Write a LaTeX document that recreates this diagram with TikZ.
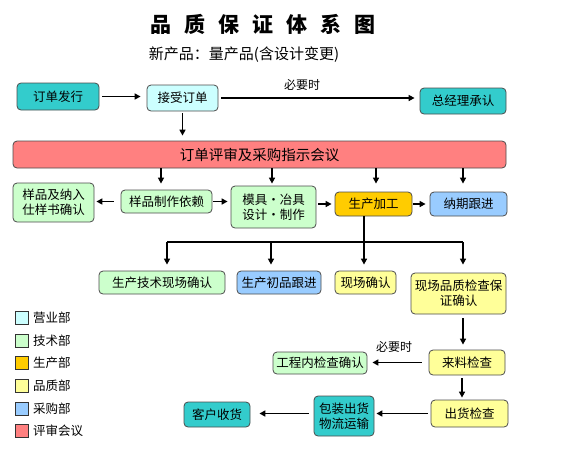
\documentclass[tikz,border=0pt]{standalone}
\usepackage{fontspec}
\setmainfont{Noto Sans CJK SC}
\usetikzlibrary{arrows.meta,calc}
\definecolor{cTeal}{HTML}{33CCCC}
\definecolor{cCyan}{HTML}{CCFFFF}
\definecolor{cGreen}{HTML}{CCFFCC}
\definecolor{cOrange}{HTML}{FFCC00}
\definecolor{cYellow}{HTML}{FFFF99}
\definecolor{cBlue}{HTML}{99CCFF}
\definecolor{cRed}{HTML}{FF8080}
\begin{document}
\begin{tikzpicture}[x=1pt,y=-1pt,
  box/.style={draw=black!70,line width=0.8pt,rounded corners=4pt,inner sep=0pt,align=center,
              font=\fontsize{12.5}{15}\selectfont},
  arr/.style={line width=1.6pt,-{Triangle[length=6pt,width=6pt]}},
  bar/.style={line width=1.6pt},
  lbl/.style={font=\fontsize{12}{14}\selectfont,inner sep=0pt},
  legbox/.style={draw=black!80,line width=0.6pt,minimum width=13,minimum height=13,inner sep=0pt},
  legtxt/.style={anchor=west,inner sep=0pt,font=\fontsize{12.5}{15}\selectfont}]
\useasboundingbox (0,0) rectangle (569,456);

% titles
\node[inner sep=0pt,font=\fontsize{21}{24}\selectfont\bfseries] (title) at (263,24)
  {品\hspace{13pt}质\hspace{13pt}保\hspace{13pt}证\hspace{13pt}体\hspace{13pt}系\hspace{13pt}图};
\node[inner sep=0pt,font=\fontsize{15}{18}\selectfont] (sub) at (244,55) {新产品：量产品(含设计变更)};

% row 1
\node[box,fill=cTeal,minimum width=82,minimum height=27] (n1) at (58,96.5) {订单发行};
\node[box,fill=cCyan,minimum width=71,minimum height=26] (n2) at (182.5,98) {接受订单};
\node[box,fill=cTeal,minimum width=86,minimum height=26] (n3) at (463,101) {总经理承认};
\node[lbl] (l1) at (302,85) {必要时};

% meeting
\node[box,fill=cRed,minimum width=493,minimum height=27,font=\fontsize{14.5}{17}\selectfont] (red) at (259.5,154.5) {订单评审及采购指示会议};

% row 2
\node[box,fill=cGreen,minimum width=81,minimum height=39] (s1) at (53.5,202.5) {样品及纳入\\仕样书确认};
\node[box,fill=cGreen,minimum width=91,minimum height=23] (s2) at (166.5,201.5) {样品制作依赖};
\node[box,fill=cGreen,minimum width=85,minimum height=42] (s3) at (273.5,207) {模具・冶具\\设计・制作};
\node[box,fill=cOrange,minimum width=77,minimum height=24] (s4) at (373.5,204) {生产加工};
\node[box,fill=cBlue,minimum width=77,minimum height=24] (s5) at (468.5,204) {纳期跟进};

% row 3
\node[box,fill=cGreen,minimum width=126,minimum height=23] (t1) at (162,282.5) {生产技术现场确认};
\node[box,fill=cBlue,minimum width=84,minimum height=23] (t2) at (279,282.5) {生产初品跟进};
\node[box,fill=cYellow,minimum width=61,minimum height=23] (t3) at (365.5,282.5) {现场确认};
\node[box,fill=cYellow,minimum width=95,minimum height=41] (t4) at (458.5,293.5) {现场品质检查保\\证确认};

% lower part
\node[box,fill=cYellow,minimum width=76,minimum height=25] (u1) at (467,362.5) {来料检查};
\node[box,fill=cGreen,minimum width=94,minimum height=22] (u2) at (320,363) {工程内检查确认};
\node[lbl] (l2) at (394,347) {必要时};
\node[box,fill=cYellow,minimum width=77,minimum height=27] (v1) at (469.5,413.5) {出货检查};
\node[box,fill=cTeal,minimum width=60,minimum height=40] (v2) at (344,416) {包装出货\\物流运输};
\node[box,fill=cTeal,minimum width=66,minimum height=25] (v3) at (217,414.5) {客户收货};

% legend
\foreach \i/\c/\t in {0/cCyan/营业部,1/cGreen/技术部,2/cOrange/生产部,3/cYellow/品质部,4/cBlue/采购部,5/cRed/评审会议}{
  \node[legbox,fill=\c] (lg\i) at (21.5,{318+22.6*\i}) {};
  \node[legtxt] (lt\i) at (33,{318+22.6*\i}) {\t};
}

% connectors
\draw[arr,shorten <=3pt,shorten >=6pt] (n1.east) -- (n1.east -| n2.west);
\draw[arr,shorten <=3pt,shorten >=5pt] (n2.east) -- (n2.east -| n3.west);
\draw[arr,shorten <=2pt,shorten >=5pt] (n2.south) -- (n2.south |- red.north);

\draw[arr,shorten >=6pt] ([xshift=-5.5]s2.north |- red.south) -- ([xshift=-5.5]s2.north);
\draw[arr,shorten >=2pt] ([xshift=-1.5]s3.north |- red.south) -- ([xshift=-1.5]s3.north);
\draw[arr,shorten >=8pt] ([xshift=2.5]s4.north |- red.south) -- ([xshift=2.5]s4.north);
\draw[arr,shorten >=8pt] ([xshift=-5.5]s5.north |- red.south) -- ([xshift=-5.5]s5.north);

\draw[arr,shorten <=7pt,shorten >=2pt] (s2.west) -- (s2.west -| s1.east);
\draw[arr,shorten <=1pt,shorten >=3pt] (s2.east) -- (s2.east -| s3.west);
\draw[arr,shorten <=2pt,shorten >=3pt] (s3.east |- s4.west) -- (s4.west);
\draw[arr,shorten <=1pt,shorten >=4pt] (s4.east) -- (s4.east -| s5.west);

\coordinate (bus) at ([xshift=-9.5]s4.south |- 0,242);
\draw[bar] ([xshift=-9.5]s4.south) -- (bus);
\draw[bar] ([xshift=5]t1.north |- bus) -- ([xshift=4.5]t4.north |- bus);
\draw[arr,shorten >=6pt] ([xshift=5]t1.north |- bus) -- ([xshift=5]t1.north);
\draw[arr,shorten >=6pt] ([xshift=-8]t2.north |- bus) -- ([xshift=-8]t2.north);
\draw[arr,shorten >=6pt] ([xshift=-1.5]t3.north |- bus) -- ([xshift=-1.5]t3.north);
\draw[arr,shorten >=8pt] ([xshift=4.5]t4.north |- bus) -- ([xshift=4.5]t4.north);

\draw[arr,shorten <=4pt,shorten >=5pt] ([xshift=4.5]t4.south) -- ([xshift=4.5]t4.south |- u1.north);
\draw[arr,shorten <=7pt,shorten >=5pt] (u1.west) -- (u1.west -| u2.east);
\draw[arr,shorten <=3pt,shorten >=2pt] ([xshift=-5]u1.south) -- ([xshift=-5]u1.south |- v1.north);
\draw[arr,shorten <=3pt,shorten >=2pt] (v1.west) -- (v1.west -| v2.east);
\draw[arr,shorten <=5pt,shorten >=9pt] (v2.west |- v1.west) -- (v3.east |- v1.west);
\end{tikzpicture}
\end{document}
